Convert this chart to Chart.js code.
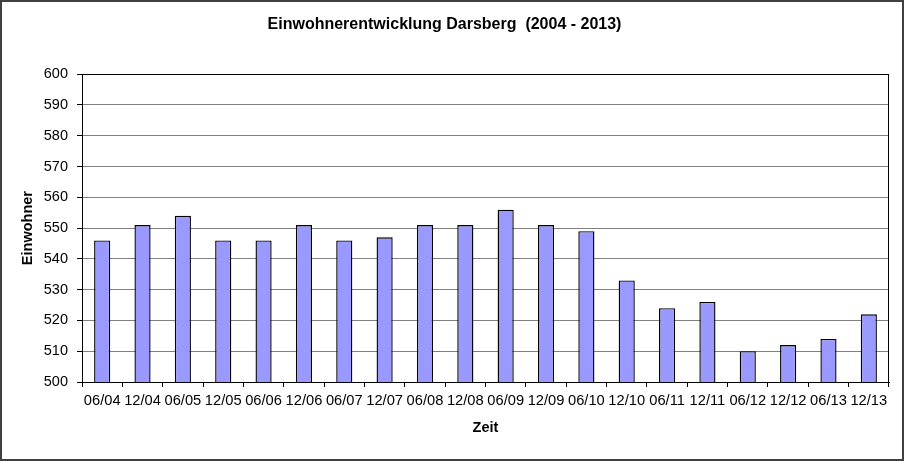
<!DOCTYPE html>
<html>
<head>
<meta charset="utf-8">
<script src="https://cdn.jsdelivr.net/npm/chart.js@4/dist/chart.umd.min.js"></script>
<style>
  html, body { margin: 0; padding: 0; background: #fff; }
  canvas { display: block; }
</style>
</head>
<body>
<canvas id="chart" width="904" height="461"></canvas>
<script>
// Einwohnerentwicklung Darsberg, Stand jeweils Juni / Dezember
const zeitpunkte = ['06/04', '12/04', '06/05', '12/05', '06/06', '12/06', '06/07', '12/07', '06/08', '12/08',
                    '06/09', '12/09', '06/10', '12/10', '06/11', '12/11', '06/12', '12/12', '06/13', '12/13'];
const einwohner = [546, 551, 554, 546, 546, 551, 546, 547, 551, 551,
                   556, 551, 549, 533, 524, 526, 510, 512, 514, 522];
const yMin = 500;
const yMax = 600;
const yStep = 10;

const FONT = 'Liberation Sans, Arial, sans-serif';

// weisser Hintergrund, Rahmen um das Diagramm und um die Zeichenflaeche
const framePlugin = {
    id: 'frame',
    beforeDraw(chart) {
        const ctx = chart.ctx;
        ctx.save();
        ctx.fillStyle = '#fff';
        ctx.fillRect(0, 0, chart.width, chart.height);
        ctx.restore();
    },
    afterDraw(chart) {
        const ctx = chart.ctx;
        const a = chart.chartArea;
        ctx.save();
        ctx.strokeStyle = '#000';
        ctx.lineWidth = 1;
        ctx.strokeRect(Math.round(a.left) + 0.5, Math.round(a.top) + 0.5,
                       Math.round(a.right - a.left) - 1, Math.round(a.bottom - a.top));
        ctx.strokeStyle = '#404040';
        ctx.lineWidth = 2;
        ctx.strokeRect(1, 1, chart.width - 2, chart.height - 2);
        ctx.restore();
    }
};

new Chart(document.getElementById('chart'), {
    type: 'bar',
    data: {
        labels: zeitpunkte,
        datasets: [{
            label: 'Einwohner',
            data: einwohner,
            backgroundColor: '#9999ff',
            borderColor: '#000',
            borderWidth: 1.4,
            barPercentage: 0.4,
            categoryPercentage: 1.0
        }]
    },
    options: {
        responsive: false,
        animation: false,
        layout: { padding: { left: 0, right: 15, top: 0, bottom: 0 } },
        plugins: {
            legend: { display: false },
            tooltip: { enabled: false },
            title: {
                display: true,
                text: 'Einwohnerentwicklung Darsberg  (2004 - 2013)',
                color: '#000',
                font: { family: FONT, size: 16, weight: 'bold' },
                padding: { top: 15, bottom: 40 }
            }
        },
        scales: {
            x: {
                offset: true,
                grid: {
                    offset: true,
                    drawOnChartArea: false,
                    drawTicks: true,
                    tickLength: 5,
                    tickColor: '#000'
                },
                border: { display: true, color: '#000' },
                ticks: {
                    color: '#000',
                    font: { family: FONT, size: 14.7 },
                    autoSkip: false,
                    maxRotation: 0,
                    minRotation: 0,
                    padding: 5
                },
                title: {
                    display: true,
                    text: 'Zeit',
                    color: '#000',
                    font: { family: FONT, size: 14.5, weight: 'bold' },
                    padding: { top: 0, bottom: 24 }
                },
                afterFit(scale) { scale.height = 79; }
            },
            y: {
                min: yMin,
                max: yMax,
                grid: {
                    color: '#808080',
                    tickColor: '#000',
                    tickLength: 5
                },
                border: { display: true, color: '#000' },
                ticks: {
                    stepSize: yStep,
                    color: '#000',
                    font: { family: FONT, size: 14.5 },
                    padding: 9
                },
                title: {
                    display: true,
                    text: 'Einwohner',
                    color: '#000',
                    font: { family: FONT, size: 14.5, weight: 'bold' },
                    padding: { top: 19, bottom: 0 }
                },
                afterFit(scale) { scale.width = 82; }
            }
        }
    },
    plugins: [framePlugin]
});
</script>
</body>
</html>
